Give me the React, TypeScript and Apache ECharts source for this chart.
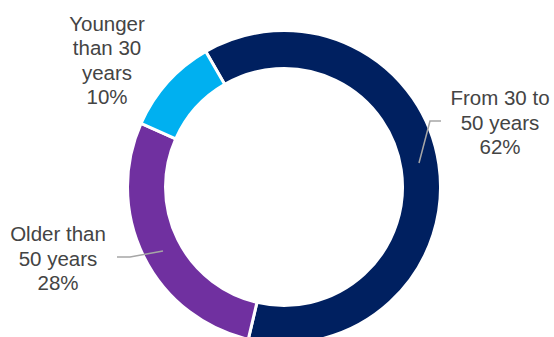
import React, { useEffect, useRef } from "react";
import * as echarts from "echarts";

const categories = ["From 30 to\n50 years", "Older than\n50 years", "Younger\nthan 30\nyears"];
const values = [62, 28, 10];
const colors = ["#002060", "#7030A0", "#00B0F0"];

// label anchor positions (block centres)
const labelPos = [
  { x: 500, y: 122 },
  { x: 58, y: 258 },
  { x: 107, y: 60 },
];
// leader lines (annotation)
const leaderLines = [
  [[419, 163], [430, 121], [441, 121]],
  [[163, 251], [130, 257], [117, 257]],
];

export default function App() {
  const ref = useRef<HTMLDivElement>(null);
  useEffect(() => {
    if (!ref.current) return;
    const chart = echarts.init(ref.current, undefined, { renderer: "svg" });
    chart.setOption({
      animation: false,
      backgroundColor: "#ffffff",
      graphic: leaderLines.map((pts) => ({
        type: "polyline",
        z: 100,
        shape: { points: pts },
        style: { stroke: "#a6a6a6", lineWidth: 1.5, fill: null },
      })),
      series: [
        {
          type: "pie",
          center: [284, 187],
          radius: [118.5, 156.5],
          startAngle: 120,
          clockwise: true,
          avoidLabelOverlap: false,
          itemStyle: { borderColor: "#ffffff", borderWidth: 3 },
          label: {
            show: true,
            position: "outside",
            color: "#444444",
            fontFamily: "Liberation Sans, Arial, sans-serif",
            fontSize: 20.5,
            lineHeight: 24.5,
            align: "center",
            formatter: (p: any) => `${p.name}\n${p.value}%`,
          },
          labelLine: { show: false },
          labelLayout: (params: any) => {
            const lp = labelPos[params.dataIndex];
            return {
              x: lp.x,
              y: lp.y,
              align: "center",
              verticalAlign: "middle",
            };
          },
          data: categories.map((name, i) => ({
            name,
            value: values[i],
            itemStyle: { color: colors[i] },
          })),
        },
      ],
    });
    return () => chart.dispose();
  }, []);
  return (
    <div
      ref={ref}
      style={{ position: "absolute", left: 0, top: 0, width: 554, height: 337 }}
    />
  );
}
